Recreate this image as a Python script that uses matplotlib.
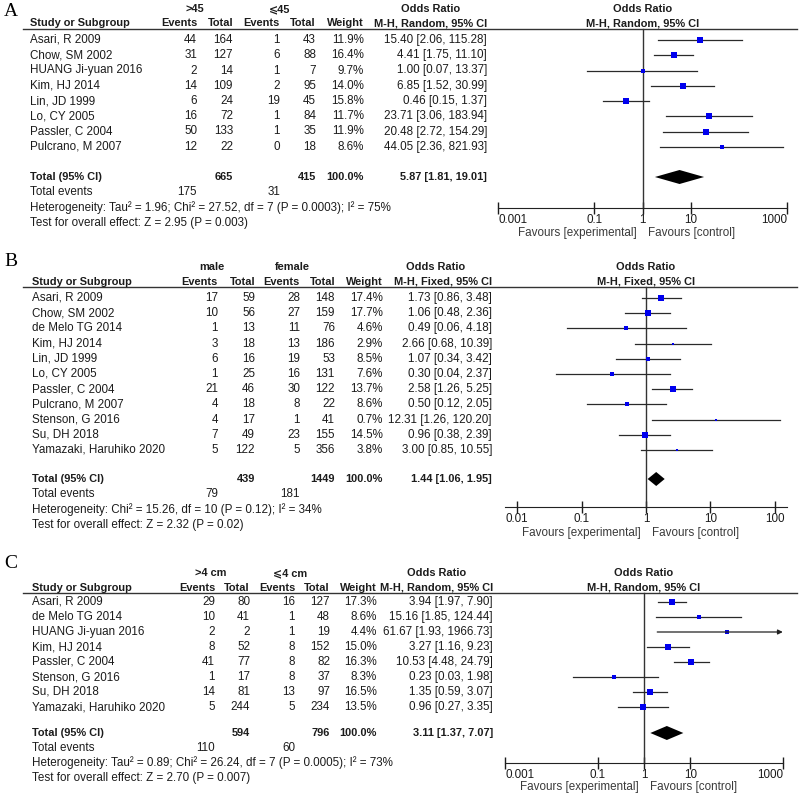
import matplotlib
matplotlib.use("Agg")
import matplotlib.pyplot as plt
from matplotlib.ticker import NullLocator
import numpy as np

plt.rcParams["font.family"] = ["Liberation Sans", "DejaVu Sans"]
INK = "#1c1c1c"

# ---- A: age >45 vs <=45 (random effects)
a_study = ["Asari, R 2009", "Chow, SM 2002", "HUANG Ji-yuan 2016", "Kim, HJ 2014",
           "Lin, JD 1999", "Lo, CY 2005", "Passler, C 2004", "Pulcrano, M 2007"]
a_ev1 = [44, 31, 2, 14, 6, 16, 50, 12]
a_tot1 = [164, 127, 14, 109, 24, 72, 133, 22]
a_ev2 = [1, 6, 1, 2, 19, 1, 1, 0]
a_tot2 = [43, 88, 7, 95, 45, 84, 35, 18]
a_wt = [11.9, 16.4, 9.7, 14.0, 15.8, 11.7, 11.9, 8.6]
a_or = [15.40, 4.41, 1.00, 6.85, 0.46, 23.71, 20.48, 44.05]
a_lo = [2.06, 1.75, 0.07, 1.52, 0.15, 3.06, 2.72, 2.36]
a_hi = [115.28, 11.10, 13.37, 30.99, 1.37, 183.94, 154.29, 821.93]
a_pool = [5.87, 1.81, 19.01]
a_groups = [">45", "⩽45"]
a_method = "M-H, Random, 95% CI"
a_het = "Heterogeneity: Tau² = 1.96; Chi² = 27.52, df = 7 (P = 0.0003); I² = 75%"
a_test = "Test for overall effect: Z = 2.95 (P = 0.003)"

# ---- B: male vs female (fixed effect)
b_study = ["Asari, R 2009", "Chow, SM 2002", "de Melo TG 2014", "Kim, HJ 2014",
           "Lin, JD 1999", "Lo, CY 2005", "Passler, C 2004", "Pulcrano, M 2007",
           "Stenson, G 2016", "Su, DH 2018", "Yamazaki, Haruhiko 2020"]
b_ev1 = [17, 10, 1, 3, 6, 1, 21, 4, 4, 7, 5]
b_tot1 = [59, 56, 13, 18, 16, 25, 46, 18, 17, 49, 122]
b_ev2 = [28, 27, 11, 13, 19, 16, 30, 8, 1, 23, 5]
b_tot2 = [148, 159, 76, 186, 53, 131, 122, 22, 41, 155, 356]
b_wt = [17.4, 17.7, 4.6, 2.9, 8.5, 7.6, 13.7, 8.6, 0.7, 14.5, 3.8]
b_or = [1.73, 1.06, 0.49, 2.66, 1.07, 0.30, 2.58, 0.50, 12.31, 0.96, 3.00]
b_lo = [0.86, 0.48, 0.06, 0.68, 0.34, 0.04, 1.26, 0.12, 1.26, 0.38, 0.85]
b_hi = [3.48, 2.36, 4.18, 10.39, 3.42, 2.37, 5.25, 2.05, 120.20, 2.39, 10.55]
b_pool = [1.44, 1.06, 1.95]
b_groups = ["male", "female"]
b_method = "M-H, Fixed, 95% CI"
b_het = "Heterogeneity: Chi² = 15.26, df = 10 (P = 0.12); I² = 34%"
b_test = "Test for overall effect: Z = 2.32 (P = 0.02)"

# ---- C: tumour size >4 cm vs <=4 cm (random effects)
c_study = ["Asari, R 2009", "de Melo TG 2014", "HUANG Ji-yuan 2016", "Kim, HJ 2014",
           "Passler, C 2004", "Stenson, G 2016", "Su, DH 2018", "Yamazaki, Haruhiko 2020"]
c_ev1 = [29, 10, 2, 8, 41, 1, 14, 5]
c_tot1 = [80, 41, 2, 52, 77, 17, 81, 244]
c_ev2 = [16, 1, 1, 8, 8, 8, 13, 5]
c_tot2 = [127, 48, 19, 152, 82, 37, 97, 234]
c_wt = [17.3, 8.6, 4.4, 15.0, 16.3, 8.3, 16.5, 13.5]
c_or = [3.94, 15.16, 61.67, 3.27, 10.53, 0.23, 1.35, 0.96]
c_lo = [1.97, 1.85, 1.93, 1.16, 4.48, 0.03, 0.59, 0.27]
c_hi = [7.90, 124.44, 1966.73, 9.23, 24.79, 1.98, 3.07, 3.35]
c_pool = [3.11, 1.37, 7.07]
c_groups = [">4 cm", "⩽4 cm"]
c_method = "M-H, Random, 95% CI"
c_het = "Heterogeneity: Tau² = 0.89; Chi² = 26.24, df = 7 (P = 0.0005); I² = 73%"
c_test = "Test for overall effect: Z = 2.70 (P = 0.007)"

W, H = 800, 796
fig = plt.figure(figsize=(8, 7.96), dpi=100, facecolor="white")
base = fig.add_axes([0, 0, 1, 1])
base.set_xlim(0, W)
base.set_ylim(H, 0)
base.axis("off")
FS = 8.4   # normal text
FB = 7.9   # bold headers


def panel(letter, study, ev1, tot1, ev2, tot2, wt, orv, lo, hi, pool, groups,
          method, het, test, lay):
    y0, step = lay["row0"], lay["step"]
    rows = [y0 + i * step for i in range(len(study))]
    ty = lay["total_y"]
    nx = lay["name_x"]
    c1, c2, c3, c4, cw, co = lay["cols"]
    kw = dict(fontsize=FS, color=INK, va="center")
    kb = dict(fontsize=FB, color=INK, va="center", weight="bold")

    base.text(4, lay["letter_y"], letter, fontsize=14, family="Liberation Serif",
              color="black", va="center")
    # group headers
    g1, g2 = lay["group_x"]
    base.text(g1, lay["group_y"], groups[0], ha="center", **kb)
    base.text(g2, lay["group_y"], groups[1], ha="center", **kb)
    base.text(co - 56, lay["group_y"], "Odds Ratio", ha="center", **kb)
    hy = lay["head_y"]
    base.text(nx, hy, "Study or Subgroup", ha="left", **kb)
    for x, s in zip([c1, c2, c3, c4, cw, co],
                    ["Events", "Total", "Events", "Total", "Weight", method]):
        base.text(x, hy, s, ha="right", **kb)
    base.plot([23, 797], [lay["line_y"]] * 2, color="#333333", lw=1.0)

    for i, y in enumerate(rows):
        base.text(nx, y, study[i], ha="left", **kw)
        base.text(c1, y, str(ev1[i]), ha="right", **kw)
        base.text(c2, y, str(tot1[i]), ha="right", **kw)
        base.text(c3, y, str(ev2[i]), ha="right", **kw)
        base.text(c4, y, str(tot2[i]), ha="right", **kw)
        base.text(cw, y, f"{wt[i]:.1f}%", ha="right", **kw)
        base.text(co, y, f"{orv[i]:.2f} [{lo[i]:.2f}, {hi[i]:.2f}]", ha="right", **kw)

    base.text(nx, ty, "Total (95% CI)", ha="left", **kb)
    base.text(c2, ty, str(sum(tot1)), ha="right", **kb)
    base.text(c4, ty, str(sum(tot2)), ha="right", **kb)
    base.text(cw, ty, "100.0%", ha="right", **kb)
    base.text(co, ty, f"{pool[0]:.2f} [{pool[1]:.2f}, {pool[2]:.2f}]", ha="right", **kb)
    base.text(nx, ty + step, "Total events", ha="left", **kw)
    base.text(c1, ty + step, str(sum(ev1)), ha="right", **kw)
    base.text(c3, ty + step, str(sum(ev2)), ha="right", **kw)
    base.text(nx, ty + 2 * step, het, ha="left", **kw)
    base.text(nx, ty + 3 * step, test, ha="left", **kw)

    # forest
    fx0, fx1 = lay["fx"]
    ftop, fbot = lay["fy"]
    fx = fig.add_axes([fx0 / W, 1 - fbot / H, (fx1 - fx0) / W, (fbot - ftop) / H])
    fx.patch.set_alpha(0)
    fx.set_xscale("log")
    xmin, xmax = lay["xlim"]
    fx.set_xlim(xmin, xmax)
    fx.set_ylim(fbot, ftop)
    for s in ["top", "left", "right"]:
        fx.spines[s].set_visible(False)
    ay = lay["axis_y"]
    fx.spines["bottom"].set_position(("data", ay))
    fx.spines["bottom"].set_color("#222222")
    fx.set_yticks([])
    ticks = lay["ticks"]
    fx.set_xticks(ticks)
    labs = fx.set_xticklabels([f"{t:g}" for t in ticks])
    for t, lab in zip(ticks, labs):
        if np.isclose(t, xmin):
            lab.set_ha("left")
        elif np.isclose(t, xmax):
            lab.set_ha("right")
    fx.xaxis.set_minor_locator(NullLocator())
    fx.tick_params(axis="x", direction="inout", length=9, width=1, pad=0,
                   labelsize=FS, colors=INK)
    fx.plot([1, 1], [lay["line_y"], ay], color="#333333", lw=1.0)
    for i, y in enumerate(rows):
        if hi[i] > xmax:
            fx.annotate("", xy=(xmax * 0.99, y), xytext=(lo[i], y),
                        arrowprops=dict(arrowstyle="-|>", color="#222222", lw=0.9,
                                        mutation_scale=7, shrinkA=0, shrinkB=0))
        else:
            fx.plot([lo[i], hi[i]], [y, y], color="#2a2a2a", lw=0.9)
        fx.plot(orv[i], y, marker="s", color="#0000ee", linestyle="none",
                markersize=max(2.0, 1.1 * np.sqrt(wt[i])), markeredgewidth=0)
    dh = 7
    fx.fill([pool[1], pool[0], pool[2], pool[0]], [ty, ty - dh, ty, ty + dh],
            color="black", lw=0)
    fx.text(1, lay["group_y"], "Odds Ratio", ha="center", **kb)
    fx.text(1, hy, method, ha="center", **kb)
    fy = lay["fav_y"]
    fx.annotate("Favours [experimental]", xy=(1, fy), xytext=(-4, 0),
                textcoords="offset points", ha="right", va="center",
                fontsize=FS, color="#3a3a3a")
    fx.annotate("Favours [control]", xy=(1, fy), xytext=(4, 0),
                textcoords="offset points", ha="left", va="center",
                fontsize=FS, color="#3a3a3a")


panel("A", a_study, a_ev1, a_tot1, a_ev2, a_tot2, a_wt, a_or, a_lo, a_hi, a_pool,
      a_groups, a_method, a_het, a_test,
      dict(row0=40, step=15.25, total_y=177, name_x=30, letter_y=12, group_y=9,
           group_x=(195, 280), head_y=23, line_y=29,
           cols=(197, 233, 280, 316, 364, 487),
           fx=(498, 787), fy=(0, 245), xlim=(1e-3, 1e3),
           ticks=[0.001, 0.1, 1, 10, 1000], axis_y=208, fav_y=233))
panel("B", b_study, b_ev1, b_tot1, b_ev2, b_tot2, b_wt, b_or, b_lo, b_hi, b_pool,
      b_groups, b_method, b_het, b_test,
      dict(row0=298, step=15.2, total_y=479, name_x=32, letter_y=262, group_y=267,
           group_x=(212, 292), head_y=282, line_y=287,
           cols=(218, 255, 300, 335, 383, 492),
           fx=(505, 787), fy=(248, 545), xlim=(10 ** -2.19, 10 ** 2.19),
           ticks=[0.01, 0.1, 1, 10, 100], axis_y=507, fav_y=533))
panel("C", c_study, c_ev1, c_tot1, c_ev2, c_tot2, c_wt, c_or, c_lo, c_hi, c_pool,
      c_groups, c_method, c_het, c_test,
      dict(row0=602, step=15.0, total_y=733, name_x=32, letter_y=563, group_y=573,
           group_x=(211, 290), head_y=588, line_y=593,
           cols=(215, 250, 295, 330, 377, 493),
           fx=(505, 783), fy=(555, 796), xlim=(1e-3, 1e3),
           ticks=[0.001, 0.1, 1, 10, 1000], axis_y=763, fav_y=787))

fig.savefig("out.png", dpi=100, facecolor="white")
